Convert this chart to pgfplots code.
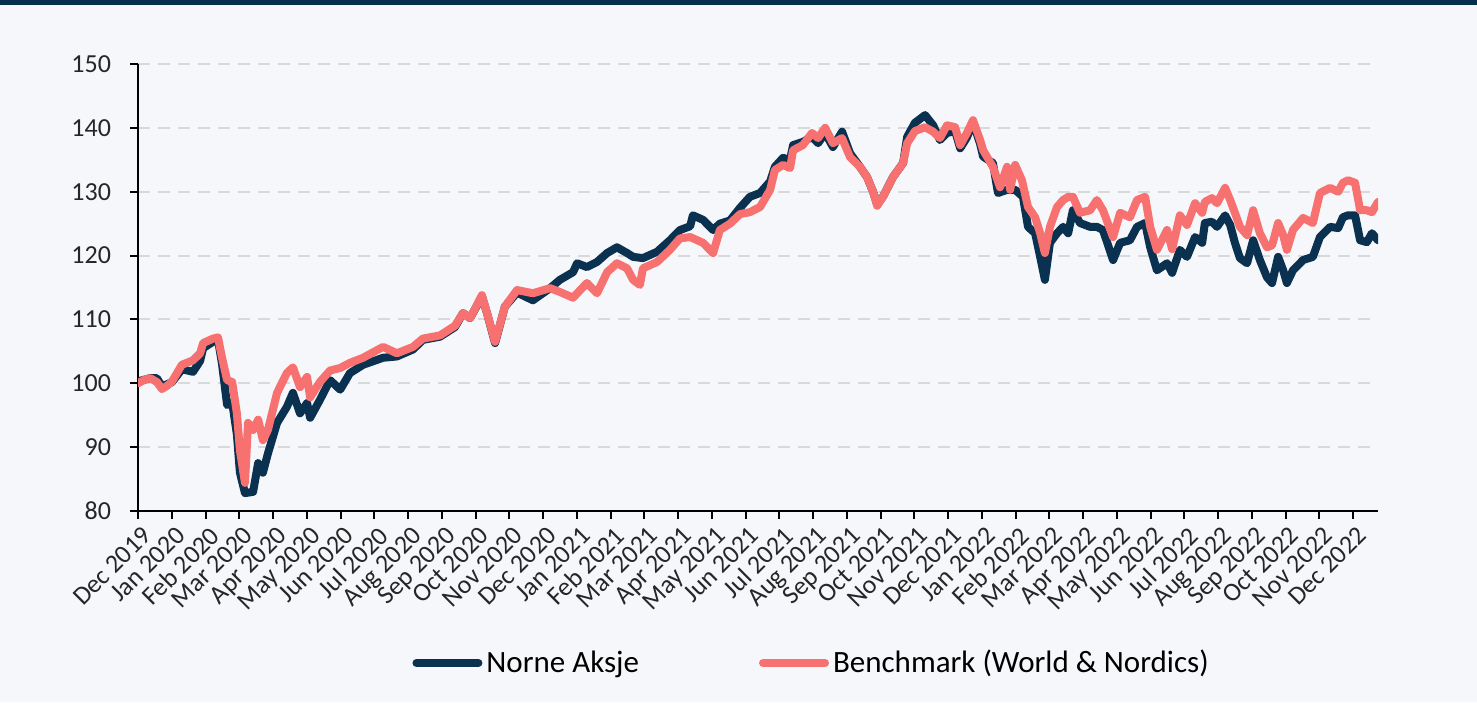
\documentclass[border=0pt]{standalone}
\usepackage{pgfplots}
\pgfplotsset{compat=1.18}
\usepackage{fontspec}
\setmainfont{Carlito}
\definecolor{bg}{HTML}{F5F7FA}
\definecolor{navy}{HTML}{0B3150}
\definecolor{topbar}{HTML}{03304D}
\definecolor{salmon}{HTML}{F87171}
\definecolor{gridgray}{HTML}{D9D9D9}
\begin{document}
\begin{tikzpicture}
\path[use as bounding box, fill=bg] (0pt,0pt) rectangle (738.5pt,351pt);
\fill[topbar] (0pt,348.5pt) rectangle (738.5pt,351pt);
\begin{axis}[
  at={(69pt,95.5pt)}, anchor=south west,
  width=620pt, height=223.5pt, scale only axis,
  xmin=0, xmax=36.74, ymin=80, ymax=150,
  axis x line*=bottom, axis y line*=left,
  axis line style={-, black, line width=1pt},
  x axis line style={-}, y axis line style={-},
  tick align=outside, major tick length=4pt,
  tick style={black, line width=1pt},
  ytick={80,90,...,150},
  xtick={0,...,36},
  xticklabels={Dec 2019,Jan 2020,Feb 2020,Mar 2020,Apr 2020,May 2020,Jun 2020,Jul 2020,Aug 2020,Sep 2020,Oct 2020,Nov 2020,Dec 2020,Jan 2021,Feb 2021,Mar 2021,Apr 2021,May 2021,Jun 2021,Jul 2021,Aug 2021,Sep 2021,Oct 2021,Nov 2021,Dec 2021,Jan 2022,Feb 2022,Mar 2022,Apr 2022,May 2022,Jun 2022,Jul 2022,Aug 2022,Sep 2022,Oct 2022,Nov 2022,Dec 2022},
  /pgf/number format/assume math mode=true,
  tick label style={font=\fontsize{13}{15}\selectfont, text=black!85},
  xticklabel style={rotate=45, anchor=north east, inner sep=1pt, yshift=-2pt},
  yticklabel style={anchor=east, xshift=-6pt},
  ymajorgrids,
  major grid style={gridgray, line width=1pt, dash pattern=on 6pt off 4pt},
  legend style={at={(0.544,-0.34)}, anchor=center, draw=none, fill=none,
    legend columns=2, font=\fontsize{15.5}{18}\selectfont,
    /tikz/every even column/.append style={column sep=58pt}},
  legend image code/.code={\draw[#1, line width=4pt, line cap=round] (0pt,0pt) -- (31pt,0pt);},
  every axis plot/.append style={line width=4pt, line join=round, line cap=round},
]
\addplot[navy] coordinates {
(0,100.3) (0.36,100.8) (0.56,100.8) (0.71,99.5) (1.01,100.2) (1.30,102.2) (1.63,101.8) (1.84,103.5) (1.93,105.5) (2.22,106.5) (2.37,106.8) (2.49,103) (2.64,96.6) (2.79,97.0) (2.93,92) (3.02,86) (3.17,82.8) (3.41,83.0) (3.56,87.5) (3.70,86.0) (3.85,89.0) (4.12,93.8) (4.41,96.3) (4.59,98.5) (4.80,95.3) (5.01,96.9) (5.10,94.6) (5.39,97.4) (5.69,100.5) (5.99,99.0) (6.28,101.6) (6.67,102.9) (7.26,104.0) (7.67,104.2) (8.15,105.3) (8.44,106.8) (8.95,107.3) (9.39,108.8) (9.63,111) (9.84,110.2) (10.19,113.6) (10.34,111) (10.58,106.3) (10.87,112) (11.23,114.2) (11.70,113.0) (12.21,114.9) (12.50,116.2) (12.89,117.4) (13.01,118.8) (13.30,118.2) (13.60,119.0) (13.90,120.4) (14.19,121.3) (14.49,120.4) (14.67,119.8) (14.96,119.6) (15.38,120.6) (15.76,122.4) (16.06,124.0) (16.36,124.6) (16.44,126.3) (16.74,125.6) (17.04,124.0) (17.24,125.0) (17.54,125.5) (17.84,127.5) (18.13,129.2) (18.43,129.8) (18.73,131.6) (18.87,133.9) (19.11,135.3) (19.32,135.0) (19.41,137.3) (19.70,137.8) (19.97,138.6) (20.15,137.6) (20.36,139.2) (20.59,137.0) (20.86,139.4) (21.10,136.0) (21.39,133.9) (21.60,132.3) (21.78,130.0) (21.90,128.0) (22.07,129.2) (22.37,132.3) (22.67,134.5) (22.79,138.6) (23.02,140.8) (23.32,142.0) (23.56,140.4) (23.76,138.1) (23.97,139.2) (24.21,139.5) (24.36,136.8) (24.56,138.5) (24.74,140.9) (24.95,137.5) (25.04,135.5) (25.33,134.5) (25.48,129.8) (25.75,130.3) (25.99,130.3) (26.22,129.2) (26.37,124.5) (26.58,123.5) (26.73,119.8) (26.87,116.2) (27.02,122.0) (27.23,123.5) (27.41,124.5) (27.56,123.5) (27.70,127.1) (27.91,125.1) (28.21,124.5) (28.41,124.5) (28.59,124.0) (28.89,119.3) (29.10,122.0) (29.39,122.4) (29.60,124.5) (29.84,125.1) (29.99,121.3) (30.19,117.7) (30.49,118.8) (30.64,117.3) (30.87,120.9) (31.08,119.8) (31.32,122.9) (31.53,122.0) (31.61,125.1) (31.82,125.3) (31.97,124.5) (32.21,126.3) (32.36,124.8) (32.50,122.0) (32.65,119.6) (32.86,118.8) (33.04,122.4) (33.24,119.3) (33.45,116.6) (33.60,115.7) (33.78,119.8) (33.93,117.7) (34.04,115.7) (34.22,117.7) (34.52,119.3) (34.81,119.8) (35.02,122.9) (35.32,124.5) (35.56,124.3) (35.70,126.0) (35.85,126.3) (36.06,126.3) (36.21,122.4) (36.41,122.1) (36.56,123.5) (36.74,122.4)
};
\addlegendentry{Norne Aksje}
\addplot[salmon] coordinates {
(0,100.0) (0.21,100.6) (0.36,100.8) (0.56,100.2) (0.71,99.1) (0.86,99.6) (1.01,100.3) (1.30,102.9) (1.63,103.6) (1.84,104.7) (1.93,106.3) (2.22,107.0) (2.37,107.2) (2.49,104) (2.64,100.5) (2.79,100.2) (2.93,95.3) (3.02,89.5) (3.17,84.4) (3.26,93.8) (3.41,92.7) (3.56,94.3) (3.70,91.1) (3.85,92.7) (4.12,98.5) (4.41,101.6) (4.59,102.5) (4.80,99.4) (5.01,101.0) (5.10,97.8) (5.39,100.2) (5.69,102.0) (5.99,102.4) (6.28,103.2) (6.67,104.0) (7.26,105.7) (7.67,104.7) (8.15,105.7) (8.44,107.0) (8.95,107.5) (9.39,109.0) (9.63,111.0) (9.84,110.2) (10.19,113.8) (10.34,111) (10.58,106.5) (10.87,112.0) (11.23,114.6) (11.70,114.1) (12.21,114.9) (12.50,114.3) (12.89,113.4) (13.30,115.7) (13.60,114.1) (13.90,117.4) (14.19,118.8) (14.49,118.0) (14.67,116.2) (14.87,115.4) (14.96,118) (15.38,119.0) (15.76,120.9) (16.06,122.7) (16.36,122.9) (16.74,122.0) (17.04,120.4) (17.24,124.0) (17.54,125.0) (17.84,126.5) (18.13,126.8) (18.43,127.6) (18.73,130.3) (18.87,133.4) (19.11,134.2) (19.32,133.7) (19.41,136.5) (19.70,137.3) (19.97,139.2) (20.15,138.4) (20.36,140.0) (20.59,137.6) (20.86,138.4) (21.01,136.5) (21.10,135.4) (21.39,133.9) (21.60,132.3) (21.78,130.0) (21.90,127.8) (22.07,129.2) (22.37,132.3) (22.67,134.5) (22.79,137.6) (23.02,139.5) (23.32,140.1) (23.56,139.4) (23.76,138.4) (23.97,140.4) (24.21,140.1) (24.36,137.3) (24.56,139.2) (24.74,141.2) (24.95,138.1) (25.04,136.5) (25.33,133.9) (25.54,130.7) (25.75,133.9) (25.84,130.3) (25.99,134.2) (26.19,131.8) (26.37,127.6) (26.58,126.0) (26.73,123.5) (26.87,120.4) (27.02,124.5) (27.23,127.6) (27.41,128.7) (27.56,129.2) (27.70,129.2) (27.91,126.7) (28.21,127.1) (28.41,128.7) (28.59,127.1) (28.89,122.9) (29.10,126.7) (29.39,126.0) (29.60,128.7) (29.84,129.2) (29.99,124.5) (30.19,120.9) (30.49,124.0) (30.64,121.0) (30.87,126.3) (31.08,124.8) (31.32,128.2) (31.53,126.7) (31.61,128.4) (31.82,129.0) (31.97,128.2) (32.21,130.6) (32.36,128.7) (32.50,126.7) (32.65,124.5) (32.86,123.2) (33.04,127.1) (33.24,123.5) (33.45,121.3) (33.60,121.6) (33.78,125.1) (33.93,123.2) (34.04,120.9) (34.22,124.0) (34.52,125.9) (34.81,125.1) (35.02,129.8) (35.32,130.6) (35.56,130.0) (35.70,131.4) (35.85,131.8) (36.06,131.4) (36.21,127.1) (36.41,127.1) (36.56,126.8) (36.74,128.4)
};
\addlegendentry{Benchmark (World \& Nordics)}
\end{axis}
\end{tikzpicture}
\end{document}
